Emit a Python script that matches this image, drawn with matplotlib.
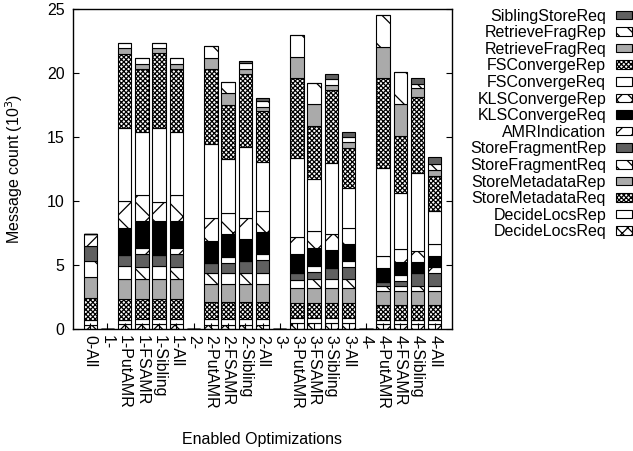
import numpy as np
import matplotlib
matplotlib.use("Agg")
import matplotlib.pyplot as plt
from matplotlib.patches import Patch

plt.rcParams["font.family"] = ["Liberation Sans", "DejaVu Sans"]
plt.rcParams["hatch.linewidth"] = 0.9

categories = ["0-All", "1-", "1-PutAMR", "1-FSAMR", "1-Sibling", "1-All",
              "2-", "2-PutAMR", "2-FSAMR", "2-Sibling", "2-All",
              "3-", "3-PutAMR", "3-FSAMR", "3-Sibling", "3-All",
              "4-", "4-PutAMR", "4-FSAMR", "4-Sibling", "4-All"]

# message counts (10^3), bottom of the stack first
decide_req = [0.33, 0, 0.38, 0.38, 0.38, 0.38, 0, 0.33, 0.33, 0.33, 0.33, 0, 0.44, 0.44, 0.44, 0.44, 0, 0.36, 0.36, 0.36, 0.36]
decide_rep = [0.37, 0, 0.36, 0.38, 0.38, 0.38, 0, 0.43, 0.43, 0.43, 0.43, 0, 0.39, 0.39, 0.39, 0.39, 0, 0.34, 0.34, 0.34, 0.34]
meta_req = [1.70, 0, 1.60, 1.58, 1.58, 1.58, 0, 1.37, 1.37, 1.37, 1.37, 0, 1.23, 1.23, 1.23, 1.23, 0, 1.18, 1.18, 1.18, 1.18]
meta_rep = [1.70, 0, 1.53, 1.54, 1.54, 1.54, 0, 1.39, 1.39, 1.39, 1.39, 0, 1.17, 1.17, 1.17, 1.17, 0, 1.05, 1.05, 1.05, 1.05]
frag_req = [1.25, 0, 1.05, 1.00, 1.04, 1.00, 0, 0.83, 0.83, 0.83, 0.83, 0, 0.60, 0.65, 0.65, 0.65, 0, 0.44, 0.44, 0.44, 0.44]
frag_rep = [1.15, 0, 0.90, 0.98, 0.86, 0.98, 0, 0.78, 0.83, 0.96, 1.04, 0, 0.57, 0.60, 0.91, 0.99, 0, 0.34, 0.39, 0.99, 1.04]
amr_ind = [0.90, 0, 0, 0.44, 0, 0.44, 0, 0, 0.47, 0, 0.45, 0, 0, 0.44, 0, 0.44, 0, 0, 0.47, 0, 0.47]
kls_req = [0, 0, 2.10, 2.16, 2.68, 2.16, 0, 1.77, 1.77, 1.72, 1.71, 0, 1.43, 1.38, 1.38, 1.33, 0, 1.04, 1.04, 0.91, 0.86]
kls_rep = [0, 0, 2.10, 2.00, 1.49, 2.00, 0, 1.75, 1.67, 1.67, 1.67, 0, 1.38, 1.38, 1.23, 1.22, 0, 0.96, 0.97, 0.83, 0.88]
fs_req = [0, 0, 5.70, 4.94, 5.78, 4.94, 0, 5.78, 4.19, 5.54, 3.85, 0, 6.17, 4.04, 5.60, 3.13, 0, 6.90, 4.42, 6.07, 2.63]
fs_rep = [0, 0, 5.80, 4.95, 5.81, 4.95, 0, 5.86, 4.22, 5.68, 3.96, 0, 6.25, 4.16, 5.67, 3.18, 0, 6.98, 4.45, 5.99, 2.74]
rf_req = [0, 0, 0.40, 0.39, 0.39, 0.39, 0, 0.86, 0.91, 0.37, 0.34, 0, 1.64, 1.67, 0.39, 0.47, 0, 2.48, 2.45, 0.65, 0.44]
rf_rep = [0, 0, 0.40, 0.45, 0.39, 0.45, 0, 0.95, 0.91, 0.47, 0.47, 0, 1.70, 1.69, 0.44, 0.39, 0, 2.47, 2.50, 0.30, 0.45]
sib_req = [0, 0, 0, 0, 0, 0, 0, 0, 0, 0.18, 0.18, 0, 0, 0, 0.40, 0.39, 0, 0, 0, 0.53, 0.59]

CHECK = "xxxxxxx"   # dense cross-hatch, reads as a checkerboard
series = [
    ("DecideLocsReq", decide_req, "white", "xx"),
    ("DecideLocsRep", decide_rep, "white", ""),
    ("StoreMetadataReq", meta_req, "white", CHECK),
    ("StoreMetadataRep", meta_rep, "#aaaaaa", ""),
    ("StoreFragmentReq", frag_req, "white", "\\"),
    ("StoreFragmentRep", frag_rep, "#606060", ""),
    ("AMRIndication", amr_ind, "white", "/"),
    ("KLSConvergeReq", kls_req, "black", ""),
    ("KLSConvergeRep", kls_rep, "white", "x"),
    ("FSConvergeReq", fs_req, "white", ""),
    ("FSConvergeRep", fs_rep, "white", CHECK),
    ("RetrieveFragReq", rf_req, "#aaaaaa", ""),
    ("RetrieveFragRep", rf_rep, "white", "\\"),
    ("SiblingStoreReq", sib_req, "#606060", ""),
]
# the legend boxes are tiny, so sparse hatches need doubling to show up
LEG_HATCH = {"x": "xx", "xx": "xxx", "\\": "\\\\", "/": "//"}

fig = plt.figure(figsize=(6.33, 4.51), dpi=100)
ax = fig.add_axes([73 / 633, 1 - 329 / 451, (452 - 73) / 633, 320 / 451])

x = np.arange(len(categories))
bottom = np.zeros(len(categories))
handles = []
for name, vals, fc, hatch in series:
    vals = np.asarray(vals, float)
    ax.bar(x, vals, 0.78, bottom=bottom, color=fc, edgecolor="black",
           hatch=hatch, lw=0.8)
    bottom += vals
    handles.append(Patch(facecolor=fc, edgecolor="black", lw=0.8,
                         hatch=LEG_HATCH.get(hatch, hatch), label=name))

ax.set_xlim(-1, len(categories))
ax.set_ylim(0, 25)
ax.set_yticks(range(0, 26, 5))
ax.set_xticks(x)
ax.set_xticklabels(categories, rotation=270, fontsize=11.5)
ax.tick_params(axis="y", direction="in", length=4, right=True, labelsize=11.5, pad=6)
ax.tick_params(axis="x", direction="in", length=4, pad=4)
for s in ax.spines.values():
    s.set_linewidth(1.0)
ax.set_ylabel("Message count (10$^3$)", fontsize=11.5, labelpad=16)
ax.set_xlabel("Enabled Optimizations", fontsize=11.5, labelpad=17)

fig.legend(handles=handles[::-1], loc="upper right", bbox_to_anchor=(1.008, 0.995),
           frameon=False, markerfirst=False, fontsize=11.5, labelspacing=0.1,
           handlelength=1.0, handleheight=0.45, handletextpad=0.6,
           borderaxespad=0.0)

fig.savefig("out.png", dpi=100)
